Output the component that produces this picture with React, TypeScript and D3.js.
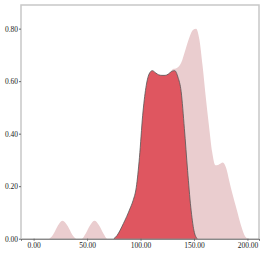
import React, { useEffect, useRef } from 'react';
import * as d3 from 'd3';

// overall density (light) and highlighted subset (red)
const lightX = [0, 14, 18, 22, 27, 32, 36, 40, 45, 49, 53, 57, 61, 65, 69, 75, 80, 85, 90, 95, 100, 105, 110, 115, 120, 125, 130, 134, 138, 142, 146, 149, 152, 155, 158, 161, 164, 167, 170, 173, 177, 180, 183, 186, 190, 194, 197, 200];
const lightY = [0, 0, 0.014, 0.045, 0.068, 0.047, 0.016, 0, 0, 0.022, 0.052, 0.068, 0.052, 0.022, 0, 0, 0.02, 0.06, 0.1, 0.16, 0.3, 0.52, 0.6, 0.6, 0.6, 0.61, 0.645, 0.65, 0.67, 0.72, 0.77, 0.795, 0.8, 0.76, 0.66, 0.54, 0.43, 0.33, 0.28, 0.282, 0.29, 0.27, 0.22, 0.17, 0.11, 0.05, 0.015, 0];

const redX = [75, 78, 81, 84, 87, 90, 93, 96, 99, 102, 105, 108, 111, 114, 117, 120, 123, 126, 129, 132, 135, 138, 141, 144, 147, 150, 153];
const redY = [0, 0.012, 0.033, 0.058, 0.084, 0.113, 0.145, 0.195, 0.31, 0.47, 0.575, 0.627, 0.64, 0.632, 0.624, 0.622, 0.622, 0.627, 0.637, 0.64, 0.615, 0.56, 0.42, 0.26, 0.12, 0.03, 0];

const xTicks = [0, 50, 100, 150, 200];
const yTicks = [0, 0.2, 0.4, 0.6, 0.8];

export default function App() {
    const ref = useRef<SVGSVGElement>(null);

    useEffect(() => {
        const svg = d3.select(ref.current);
        svg.selectAll('*').remove();

        const left = 21, right = 259, top = 5, bottom = 238.7;
        const x = d3.scaleLinear().domain([-11.8, 210.8]).range([left, right]);
        const y = d3.scaleLinear().domain([0, 0.89]).range([bottom, top]);

        const area = d3.area<[number, number]>()
            .x(d => x(d[0]))
            .y0(y(0))
            .y1(d => y(d[1]))
            .curve(d3.curveMonotoneX);
        const line = d3.line<[number, number]>()
            .x(d => x(d[0]))
            .y(d => y(d[1]))
            .curve(d3.curveMonotoneX);

        const light = lightX.map((v, i) => [v, lightY[i]] as [number, number]);
        const red = redX.map((v, i) => [v, redY[i]] as [number, number]);

        svg.append('path').attr('d', area(light)).attr('fill', '#eacdcf');
        svg.append('path').attr('d', area(red)).attr('fill', '#df5660');
        svg.append('path').attr('d', line(red)).attr('fill', 'none')
            .attr('stroke', '#555').attr('stroke-width', 0.8);

        // frame
        svg.append('path')
            .attr('d', `M${left},${bottom}V${top}H${right}V${bottom}`)
            .attr('fill', 'none').attr('stroke', '#c8c8c8').attr('stroke-width', 1.5);

        const yAxis = svg.append('g')
            .attr('transform', `translate(${left},0)`)
            .call(d3.axisLeft(y).tickValues(yTicks).tickFormat(d3.format('.2f')).tickSize(2).tickPadding(1));
        yAxis.select('.domain').remove();

        const xAxis = svg.append('g')
            .attr('transform', `translate(0,${bottom})`)
            .call(d3.axisBottom(x).tickValues(xTicks).tickFormat(d3.format('.2f')).tickSize(2).tickPadding(2));
        xAxis.select('.domain').attr('stroke', '#555');

        svg.selectAll('.tick line').attr('stroke', '#666');
        svg.selectAll('.tick text')
            .style('font-family', '"Liberation Serif", "DejaVu Serif", serif')
            .style('font-size', '7.5px')
            .attr('fill', '#222');
    }, []);

    return (
        <svg ref={ref} width={263} height={253}
            style={{ position: 'absolute', left: 0, top: 0, background: '#fff' }} />
    );
}
